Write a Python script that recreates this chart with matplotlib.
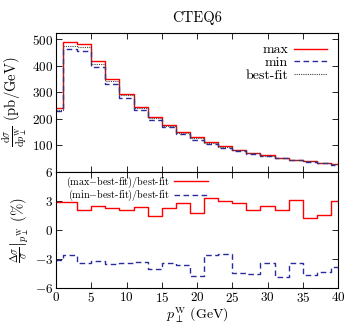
import matplotlib
matplotlib.use("Agg")
import matplotlib.pyplot as plt

plt.rcParams["font.family"] = "serif"
plt.rcParams["font.serif"] = ["cmr10"]
plt.rcParams["mathtext.fontset"] = "cm"
plt.rcParams["axes.unicode_minus"] = False
plt.rcParams["axes.formatter.use_mathtext"] = True

pt = [0, 2, 4, 6, 8, 10, 12, 14, 16, 18, 20, 22, 24, 26, 28, 30, 32, 34, 36, 38, 40]

xs_max = [241, 490, 483, 419, 352, 294, 246, 207, 177, 150, 129, 110, 95, 82, 71, 61, 53, 45, 39, 34, 28]
xs_min = [228, 463, 457, 396, 332, 278, 232, 196, 167, 141, 121, 103.7, 89.9, 76.3, 66.4, 57.5, 49.4, 42.2, 36.7, 32.0, 26.2]
xs_best = [234, 476, 473, 409, 344, 288, 240, 204, 173, 146, 127, 106.5, 92.2, 79.8, 69.6, 59.6, 52, 43.7, 38.5, 33.5, 27.2]

rel_max = [2.9, 2.9, 2.05, 2.4, 2.2, 2.05, 2.3, 1.4, 2.2, 2.8, 1.75, 3.3, 3.0, 2.8, 2.0, 2.4, 2.0, 3.05, 1.2, 1.5, 3.0]
rel_min = [-3.07, -2.63, -3.45, -3.2, -3.5, -3.45, -3.3, -4.0, -3.45, -3.65, -4.78, -2.63, -2.5, -4.43, -4.53, -3.4, -4.88, -3.4, -4.6, -4.35, -3.82]

red = "#ff0000"
blue = "#2b2ba0"

fig = plt.figure(figsize=(3.46, 3.23), dpi=100)
ax1 = fig.add_axes([0.162, 0.469, 0.815, 0.430])
ax2 = fig.add_axes([0.162, 0.108, 0.815, 0.361])

ax1.step(pt, xs_max, where="mid", color=red, lw=1.0, label="max")
ax1.step(pt, xs_min, where="mid", color=blue, lw=1.0, ls=(0, (4, 2.5)), label="min")
ax1.step(pt, xs_best, where="mid", color="#444444", lw=0.8, ls=(0, (1, 1)), label="best-fit")
ax1.set_xlim(0, 40)
ax1.set_ylim(0, 526)
ax1.set_yticks([100, 200, 300, 400, 500])
ax1.set_xticks(range(0, 41, 5))
ax1.tick_params(labelbottom=False)
ax1.set_ylabel(r"$\frac{{\rm d}\sigma}{{\rm d}p_\perp^{\rm W}}$ (pb/GeV)", fontsize=10.5, labelpad=2)
ax1.set_title("CTEQ6", fontsize=10.5, pad=8)
ax1.legend(loc="upper right", frameon=False, markerfirst=False, fontsize=10,
           handlelength=2.4, labelspacing=0.0, borderaxespad=0.4, handletextpad=0.4)

ax2.step(pt, rel_max, where="mid", color=red, lw=1.0, label="(max$-$best-fit)/best-fit")
ax2.step(pt, rel_min, where="mid", color=blue, lw=1.0, ls=(0, (4, 2.5)), label="(min$-$best-fit)/best-fit")
ax2.set_xlim(0, 40)
ax2.set_ylim(-6, 6)
ax2.set_yticks([-6, -3, 0, 3, 6])
ax2.set_xticks(range(0, 41, 5))
ax2.set_xlabel(r"$p_\perp^{\rm W}$ (GeV)", fontsize=10, labelpad=0)
ax2.set_ylabel(r"$\left.\frac{\Delta\sigma}{\sigma}\right|_{p_\perp^{\rm W}}$ (%)", fontsize=10.5, labelpad=2)
ax2.legend(loc="upper left", frameon=False, markerfirst=False, fontsize=7.3,
           handlelength=3.3, labelspacing=-0.15, borderaxespad=0.0, handletextpad=0.5,
           bbox_to_anchor=(0.02, 1.01))

for ax in (ax1, ax2):
    ax.tick_params(direction="in", top=True, right=True, labelsize=9.5, length=4, width=0.6, pad=2)
    for s in ax.spines.values():
        s.set_linewidth(0.8)

fig.savefig("out.png", dpi=100)
